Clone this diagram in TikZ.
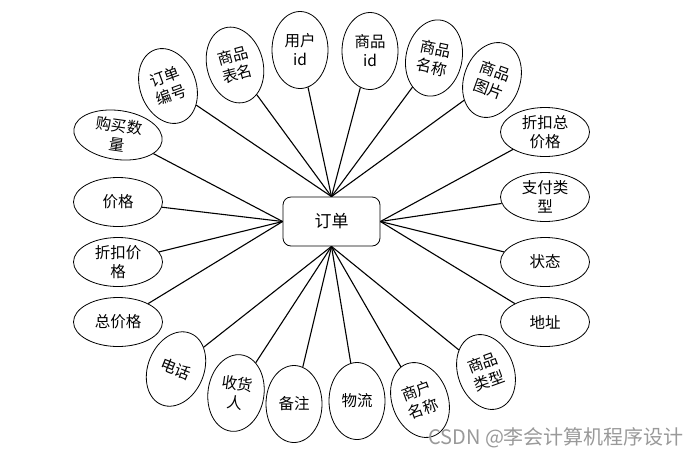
\documentclass[tikz,border=0pt]{standalone}
\usepackage{fontspec}
\setmainfont{Noto Sans CJK SC}
\usetikzlibrary{shapes.geometric}
\begin{document}
\begin{tikzpicture}[x=1pt,y=-1pt,
  attr/.style={draw,ellipse,line width=0.8pt,inner sep=0pt,minimum width=89pt,minimum height=49pt,align=center,font=\fontsize{15.5}{19}\selectfont},
  attrv/.style={attr,minimum width=56pt,minimum height=77pt},
  link/.style={line width=1.1pt}]
\useasboundingbox (0,0) rectangle (695,456);
% entity
\node[draw,rounded corners=8pt,line width=0.8pt,minimum width=97pt,minimum height=49pt,font=\fontsize{17}{20}\selectfont] (ord) at (331.5,221.5) {订单};
% top attributes
\node[attrv,rotate=20]  (ordno) at (168,86) {订单\\编号};
\node[attrv,rotate=15]  (gtab)  at (235,65) {商品\\表名};
\node[attrv]            (uid)   at (300,50) {用户\\id};
\node[attrv]            (gid)   at (370,51) {商品\\id};
\node[attrv,rotate=-12] (gname) at (434,58) {商品\\名称};
\node[attrv,rotate=-20] (gpic)  at (492,80) {商品\\图片};
% left attributes
\node[attr,rotate=-8] (qty)   at (118,135) {购买数\\量};
\node[attr]           (price) at (118,202) {价格};
\node[attr]           (dprice) at (118,262) {折扣价\\格};
\node[attr]           (total) at (118,322) {总价格};
% right attributes
\node[attr] (dtotal) at (545,132) {折扣总\\价格};
\node[attr] (paytype) at (545,197) {支付类\\型};
\node[attr] (state)  at (545,262) {状态};
\node[attr] (addr)   at (545,322) {地址};
% bottom attributes
\node[attrv,rotate=-22] (tel)   at (176,369) {电话};
\node[attrv,rotate=-8]  (recv)  at (236,393) {收货\\人};
\node[attrv]            (note)  at (294,404) {备注};
\node[attrv]            (logi)  at (357,401) {物流};
\node[attrv,rotate=20]  (shop)  at (420,400) {商户\\名称};
\node[attrv,rotate=20]  (gtype) at (486,372) {商品\\类型};
% links
\foreach \a in {ordno,gtab,uid,gid,gname,gpic}
  \draw[link] (ord.north) -- (\a);
\foreach \a in {qty,price,dprice,total}
  \draw[link] (ord.west) -- (\a);
\foreach \a in {dtotal,paytype,state,addr}
  \draw[link] (ord.east) -- (\a);
\foreach \a in {tel,recv,note,logi,shop,gtype}
  \draw[link] (ord.south) -- (\a);
% watermark
\node[font=\fontsize{20}{22}\selectfont,text=black!40,anchor=west,inner sep=0pt] (mark) at (428,438) {CSDN @李会计算机程序设计};
\end{tikzpicture}
\end{document}
